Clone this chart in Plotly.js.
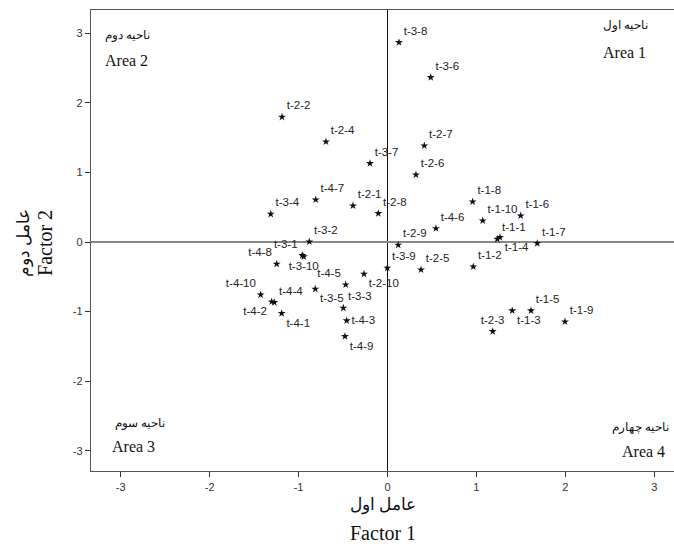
<!DOCTYPE html>
<html>
<head>
<meta charset="utf-8">
<script src="https://cdn.plot.ly/plotly-3.0.1.min.js"></script>
<style>html,body{margin:0;padding:0;background:#fff;}#chart{width:674px;height:546px;}</style>
</head>
<body>
<div id="chart"></div>
<script>
// Point labels
const labels = [
  "t-1-1","t-1-2","t-1-3","t-1-4","t-1-5","t-1-6","t-1-7","t-1-8","t-1-9","t-1-10",
  "t-2-1","t-2-2","t-2-3","t-2-4","t-2-5","t-2-6","t-2-7","t-2-8","t-2-9","t-2-10",
  "t-3-1","t-3-2","t-3-3","t-3-4","t-3-5","t-3-6","t-3-7","t-3-8","t-3-9","t-3-10",
  "t-4-1","t-4-2","t-4-3","t-4-4","t-4-5","t-4-6","t-4-7","t-4-8","t-4-9","t-4-10"
];
// Factor 1 scores
const factor1 = [
  1.235, 0.965, 1.403, 1.265, 1.614, 1.498, 1.684, 0.958, 1.996, 1.071,
  -0.388, -1.186, 1.183, -0.692, 0.377, 0.320, 0.414, -0.103, 0.121, -0.264,
  -0.958, -0.879, -0.497, -1.313, -0.812, 0.486, -0.197, 0.129, -0.002, -0.942,
  -1.190, -1.302, -0.459, -1.273, -0.470, 0.545, -0.807, -1.246, -0.478, -1.426
];
// Factor 2 scores
const factor2 = [
  0.043, -0.355, -0.987, 0.066, -0.987, 0.378, -0.020, 0.579, -1.146, 0.306,
  0.522, 1.797, -1.285, 1.442, -0.398, 0.967, 1.384, 0.411, -0.043, -0.460,
  -0.193, 0.004, -0.949, 0.402, -0.676, 2.366, 1.130, 2.869, -0.374, -0.211,
  -1.026, -0.858, -1.131, -0.868, -0.614, 0.195, 0.608, -0.316, -1.357, -0.758
];
// Tick values
const tickVals = [-3, -2, -1, 0, 1, 2, 3];
const tickText = ["-3", "-2", "-1", "0", "1", "2", "3"];

// label placement (style)
const labelPos = labels.map(function (l) {
  const m = {
    "t-1-4": "bottom right",
    "t-1-3": "bottom right",
    "t-2-3": "top center",
    "t-2-10": "bottom right",
    "t-3-1": "top left",
    "t-3-10": "bottom center",
    "t-3-5": "bottom right",
    "t-4-1": "bottom right",
    "t-4-2": "bottom left",
    "t-4-3": "middle right",
    "t-4-5": "top left",
    "t-4-8": "top left",
    "t-4-9": "bottom right",
    "t-4-10": "top left"
  };
  return m[l] || "top right";
});

const trace = {
  type: "scatter",
  mode: "markers+text",
  x: factor1,
  y: factor2,
  text: labels,
  textposition: labelPos,
  textfont: {family: "Liberation Sans, Arial, sans-serif", size: 11.5, color: "#222"},
  marker: {symbol: "star", size: 6, color: "#111", line: {width: 0}},
  hoverinfo: "skip",
  cliponaxis: false
};

const serif = "Liberation Serif, Times New Roman, serif";
const ann = [];
function add(x, y, text, xanchor, size, xref, yref, extra) {
  const a = {x: x, y: y, xref: xref || "x", yref: yref || "y", text: text, showarrow: false,
    xanchor: xanchor, yanchor: "middle", font: {family: serif, size: size, color: "#111"}};
  if (extra) Object.assign(a, extra);
  ann.push(a);
}
// quadrant labels
add(-3.199, 2.965, "ناحیه دوم", "left", 11.5);
add(-3.199, 2.606, "Area 2", "left", 16);
add(2.952, 3.109, "ناحیه اول", "right", 11.5);
add(2.929, 2.721, "Area 1", "right", 16);
add(-3.087, -2.612, "ناحیه سوم", "left", 11.5);
add(-3.12, -2.942, "Area 3", "left", 16);
add(3.19, -2.669, "ناحیه چهارم", "right", 11.5);
add(2.614, -3.014, "Area 4", "left", 16);
// axis titles
add(0.5009, -0.0738, "عامل اول", "center", 16.5, "paper", "paper");
add(0.5009, -0.1345, "Factor 1", "center", 20, "paper", "paper");
add(-0.1149, 0.4946, "عامل دوم", "center", 16.5, "paper", "paper", {textangle: -90});
add(-0.0789, 0.4946, "Factor 2", "center", 20, "paper", "paper", {textangle: -90});

const axisCommon = {
  showgrid: false,
  showline: true,
  linecolor: "#555",
  linewidth: 1.3,
  ticks: "outside",
  ticklen: 5,
  tickwidth: 1,
  tickcolor: "#333",
  tickvals: tickVals,
  ticktext: tickText,
  tickfont: {family: "Liberation Sans, Arial, sans-serif", size: 11, color: "#333"},
  fixedrange: true
};

const layout = {
  width: 674,
  height: 546,
  margin: {l: 91, r: 0, t: 10, b: 75},
  paper_bgcolor: "#fff",
  plot_bgcolor: "#fff",
  showlegend: false,
  xaxis: Object.assign({}, axisCommon, {
    range: [-3.334, 3.222],
    mirror: true,
    zeroline: true,
    zerolinecolor: "#111",
    zerolinewidth: 1.3
  }),
  yaxis: Object.assign({}, axisCommon, {
    range: [-3.292, 3.335],
    mirror: false,
    zeroline: true,
    zerolinecolor: "#888",
    zerolinewidth: 2.2
  }),
  annotations: ann
};

Plotly.newPlot("chart", [trace], layout, {displayModeBar: false, staticPlot: true});
</script>
</body>
</html>
